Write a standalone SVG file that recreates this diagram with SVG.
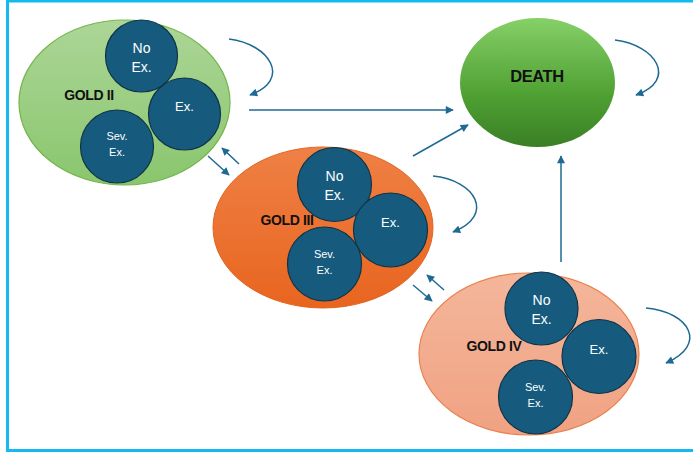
<svg xmlns="http://www.w3.org/2000/svg" width="693" height="454" viewBox="0 0 693 454">
<defs>
<linearGradient id="gDeath" x1="0" y1="0" x2="0" y2="1"><stop offset="0" stop-color="#86d068"/><stop offset="0.6" stop-color="#4fa033"/><stop offset="1" stop-color="#3a7f26"/></linearGradient>
<linearGradient id="gII" x1="0" y1="0" x2="0" y2="1"><stop offset="0" stop-color="#acd697"/><stop offset="1" stop-color="#8ac66e"/></linearGradient>
<linearGradient id="gIII" x1="0" y1="0" x2="0" y2="1"><stop offset="0" stop-color="#ef8045"/><stop offset="1" stop-color="#e8651f"/></linearGradient>
<linearGradient id="gIV" x1="0" y1="0" x2="0" y2="1"><stop offset="0" stop-color="#f4b69b"/><stop offset="1" stop-color="#f0a282"/></linearGradient>
<marker id="ah" viewBox="0 0 10 10" refX="9" refY="5" markerWidth="9" markerHeight="8" markerUnits="userSpaceOnUse" orient="auto"><path d="M0,0 L10,5 L0,10 z" fill="#1f6a93"/></marker>
</defs>
<style>
.c{fill:#165b7e;stroke:#0f3447;stroke-width:1.2}
.t{font-family:"Liberation Sans",Arial,sans-serif;fill:#fff;text-anchor:middle}
.l{font-family:"Liberation Sans",Arial,sans-serif;font-weight:bold;fill:#111;text-anchor:middle;letter-spacing:-0.4px}
.a{fill:none;stroke:#1f6a93;stroke-width:1.5;marker-end:url(#ah)}
</style>
<rect x="0" y="0" width="693" height="454" fill="#fff"/>
<rect x="7.5" y="1" width="700" height="449.5" fill="none" stroke="#14b9ef" stroke-width="3"/>
<g id="death">
<ellipse cx="537.5" cy="82.5" rx="77.5" ry="64.5" fill="url(#gDeath)"/>
<text class="l" x="537" y="82" font-size="16.5">DEATH</text>
</g>
<g id="gold2">
<ellipse cx="124.5" cy="102.5" rx="105.5" ry="82.5" fill="url(#gII)" stroke="#74b64b" stroke-width="1.2"/>
<text class="l" x="89" y="100" font-size="14">GOLD II</text>
<circle class="c" cx="141.5" cy="56" r="36"/>
<text class="t" x="141.5" y="52.5" font-size="14">No</text>
<text class="t" x="141.5" y="71.5" font-size="14">Ex.</text>
<circle class="c" cx="184.5" cy="114" r="36"/>
<text class="t" x="184.5" y="111" font-size="13">Ex.</text>
<circle class="c" cx="117" cy="146.5" r="36.5"/>
<text class="t" x="117" y="139.5" font-size="11">Sev.</text>
<text class="t" x="117" y="156" font-size="11">Ex.</text>
</g>
<g id="gold3">
<ellipse cx="323" cy="227.5" rx="110" ry="80.5" fill="url(#gIII)" stroke="#e2641f" stroke-width="1"/>
<text class="l" x="287" y="225" font-size="14">GOLD III</text>
<circle class="c" cx="334.5" cy="184.5" r="37"/>
<text class="t" x="334.5" y="181" font-size="14">No</text>
<text class="t" x="334.5" y="200" font-size="14">Ex.</text>
<circle class="c" cx="390.5" cy="230" r="37"/>
<text class="t" x="390.5" y="227" font-size="13">Ex.</text>
<circle class="c" cx="324.5" cy="264" r="37"/>
<text class="t" x="324.5" y="257.5" font-size="11">Sev.</text>
<text class="t" x="324.5" y="274" font-size="11">Ex.</text>
</g>
<g id="gold4">
<ellipse cx="529" cy="354" rx="110" ry="81" fill="url(#gIV)" stroke="#e9824f" stroke-width="1.2"/>
<text class="l" x="494" y="351" font-size="14">GOLD IV</text>
<circle class="c" cx="541.5" cy="308.5" r="36.5"/>
<text class="t" x="541.5" y="305" font-size="14">No</text>
<text class="t" x="541.5" y="324" font-size="14">Ex.</text>
<circle class="c" cx="599" cy="356.5" r="37"/>
<text class="t" x="599" y="353.5" font-size="13">Ex.</text>
<circle class="c" cx="535.5" cy="397" r="37"/>
<text class="t" x="535.5" y="390.5" font-size="11">Sev.</text>
<text class="t" x="535.5" y="407" font-size="11">Ex.</text>
</g>
<g id="connectors">
<path class="a" d="M229,39 C270,44 292,80 250,95"/>
<path class="a" d="M249,110 L453,110"/>
<path class="a" d="M413,156 L468,125"/>
<path class="a" d="M615,40 C656,45 678,80 636,95"/>
<path class="a" d="M561,262 L561,156"/>
<path class="a" d="M208,156 L229,175"/>
<path class="a" d="M239,164 L222,148"/>
<path class="a" d="M433,176 C475,180 496,215 453,232"/>
<path class="a" d="M413,285 L432,301"/>
<path class="a" d="M444,290 L427,275"/>
<path class="a" d="M646,308 C690,312 708,345 666,363"/>
</g>
</svg>
